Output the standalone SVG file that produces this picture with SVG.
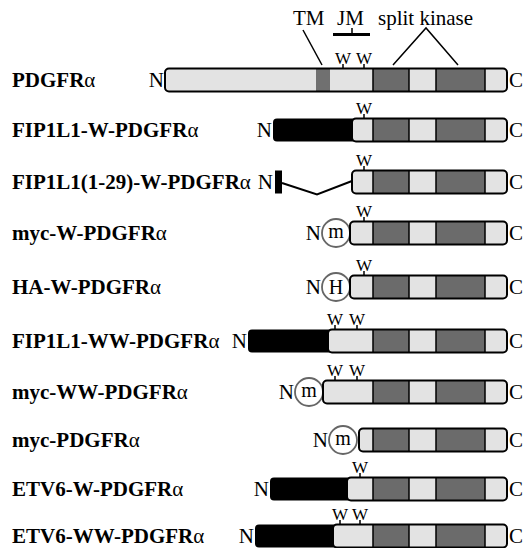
<svg xmlns="http://www.w3.org/2000/svg" xmlns:xlink="http://www.w3.org/1999/xlink" width="526" height="548" viewBox="0 0 526 548">
<style>
.lt{fill:#e3e3e3}
.dk{fill:#6b6b6b}
.bk{fill:#000}
.ol{fill:none;stroke:#000;stroke-width:2}
.dv{stroke:#000;stroke-width:1.5;fill:none}
.ln{stroke:#000;stroke-width:2;fill:none}
.tag{fill:#fff;stroke:#666;stroke-width:1.8}
text{font-family:"Liberation Serif","Times New Roman",serif;fill:#000}
.lbl{font-size:21px;font-weight:bold}
.a{font-weight:normal}
.t{font-size:21px}
.w{font-size:17px;text-anchor:middle}
.e{text-anchor:end}
.m{font-size:20px;text-anchor:middle}
</style>
<defs>
<g id="kin">
<rect x="373" y="-11.5" width="36" height="23" class="dk"/>
<rect x="436" y="-11.5" width="49" height="23" class="dk"/>
<path d="M373-11.5V11.5M409-11.5V11.5M436-11.5V11.5M485-11.5V11.5" class="dv"/>
</g>
</defs>

<g id="annotations">
<text x="293" y="25" class="t">TM</text>
<text x="337" y="25" class="t">JM</text>
<text x="378" y="25" class="t">split kinase</text>
</g>

<g id="connectors">
<path d="M303 30L322 65" class="dv"/>
<path d="M333 34.5H370" stroke="#000" stroke-width="3"/>
<path d="M352 28V34" class="dv"/>
<path d="M393 65L426 28L458 65" class="dv"/>
</g>

<g id="row-PDGFRa" transform="translate(0,80)">
<text x="12" y="7" class="lbl">PDGFR<tspan class="a">α</tspan></text>
<text x="164" y="7" class="t e">N</text>
<rect x="165" y="-11.5" width="342" height="23" rx="4" class="lt"/>
<rect x="316" y="-11" width="14" height="22" fill="#707070"/>
<use xlink:href="#kin"/>
<rect x="165" y="-11.5" width="342" height="23" rx="4" class="ol"/>
<path d="M343-16V-11.5M364-16V-11.5" class="dv"/>
<text x="343" y="-16" class="w">W</text>
<text x="364" y="-16" class="w">W</text>
<text x="509" y="7" class="t">C</text>
</g>

<g id="row-FIP1L1-W-PDGFRa" transform="translate(0,130)">
<text x="12" y="7" class="lbl">FIP1L1-W-PDGFR<tspan class="a">α</tspan></text>
<text x="272" y="7" class="t e">N</text>
<rect x="273" y="-11.5" width="84" height="23" rx="4" class="bk"/>
<rect x="352" y="-11.5" width="155" height="23" rx="4" class="lt"/>
<use xlink:href="#kin"/>
<rect x="352" y="-11.5" width="155" height="23" rx="4" class="ol"/>
<path d="M364-16V-11.5" class="dv"/>
<text x="364" y="-16" class="w">W</text>
<text x="509" y="7" class="t">C</text>
</g>

<g id="row-FIP1L1-1-29-W-PDGFRa" transform="translate(0,182)">
<text x="12" y="7" class="lbl">FIP1L1(1-29)-W-PDGFR<tspan class="a">α</tspan></text>
<text x="273" y="7" class="t e">N</text>
<rect x="275" y="-11.5" width="7" height="23" class="bk"/>
<path d="M282 1L317 12.5L352 -1" class="ln"/>
<rect x="352" y="-11.5" width="155" height="23" rx="4" class="lt"/>
<use xlink:href="#kin"/>
<rect x="352" y="-11.5" width="155" height="23" rx="4" class="ol"/>
<path d="M364-16V-11.5" class="dv"/>
<text x="364" y="-16" class="w">W</text>
<text x="509" y="7" class="t">C</text>
</g>

<g id="row-myc-W-PDGFRa" transform="translate(0,233)">
<text x="12" y="7" class="lbl">myc-W-PDGFR<tspan class="a">α</tspan></text>
<text x="321" y="7" class="t e">N</text>
<circle cx="336" cy="0" r="14" class="tag"/>
<text x="336" y="5" class="m">m</text>
<rect x="350" y="-11.5" width="157" height="23" rx="4" class="lt"/>
<use xlink:href="#kin"/>
<rect x="350" y="-11.5" width="157" height="23" rx="4" class="ol"/>
<path d="M364-16V-11.5" class="dv"/>
<text x="364" y="-16" class="w">W</text>
<text x="509" y="7" class="t">C</text>
</g>

<g id="row-HA-W-PDGFRa" transform="translate(0,287)">
<text x="12" y="7" class="lbl">HA-W-PDGFR<tspan class="a">α</tspan></text>
<text x="321" y="7" class="t e">N</text>
<circle cx="336" cy="0" r="14" class="tag"/>
<text x="336" y="6.5" class="m">H</text>
<rect x="350" y="-11.5" width="157" height="23" rx="4" class="lt"/>
<use xlink:href="#kin"/>
<rect x="350" y="-11.5" width="157" height="23" rx="4" class="ol"/>
<path d="M364-16V-11.5" class="dv"/>
<text x="364" y="-16" class="w">W</text>
<text x="509" y="7" class="t">C</text>
</g>

<g id="row-FIP1L1-WW-PDGFRa" transform="translate(0,341)">
<text x="12" y="7" class="lbl">FIP1L1-WW-PDGFR<tspan class="a">α</tspan></text>
<text x="247" y="7" class="t e">N</text>
<rect x="248" y="-11.5" width="85" height="23" rx="4" class="bk"/>
<rect x="328" y="-11.5" width="179" height="23" rx="4" class="lt"/>
<use xlink:href="#kin"/>
<rect x="328" y="-11.5" width="179" height="23" rx="4" class="ol"/>
<path d="M335-16V-11.5M357-16V-11.5" class="dv"/>
<text x="335" y="-16" class="w">W</text>
<text x="357" y="-16" class="w">W</text>
<text x="509" y="7" class="t">C</text>
</g>

<g id="row-myc-WW-PDGFRa" transform="translate(0,392)">
<text x="12" y="7" class="lbl">myc-WW-PDGFR<tspan class="a">α</tspan></text>
<text x="294" y="7" class="t e">N</text>
<circle cx="309" cy="0" r="14" class="tag"/>
<text x="309" y="5" class="m">m</text>
<rect x="323" y="-11.5" width="184" height="23" rx="4" class="lt"/>
<use xlink:href="#kin"/>
<rect x="323" y="-11.5" width="184" height="23" rx="4" class="ol"/>
<path d="M335-16V-11.5M357-16V-11.5" class="dv"/>
<text x="335" y="-16" class="w">W</text>
<text x="357" y="-16" class="w">W</text>
<text x="509" y="7" class="t">C</text>
</g>

<g id="row-myc-PDGFRa" transform="translate(0,440)">
<text x="12" y="7" class="lbl">myc-PDGFR<tspan class="a">α</tspan></text>
<text x="328" y="7" class="t e">N</text>
<circle cx="343" cy="0" r="14" class="tag"/>
<text x="343" y="5" class="m">m</text>
<rect x="359" y="-11.5" width="148" height="23" rx="4" class="lt"/>
<use xlink:href="#kin"/>
<rect x="359" y="-11.5" width="148" height="23" rx="4" class="ol"/>
<text x="509" y="7" class="t">C</text>
</g>

<g id="row-ETV6-W-PDGFRa" transform="translate(0,489)">
<text x="12" y="7" class="lbl">ETV6-W-PDGFR<tspan class="a">α</tspan></text>
<text x="269" y="7" class="t e">N</text>
<rect x="270" y="-11.5" width="82" height="23" rx="4" class="bk"/>
<rect x="347" y="-11.5" width="160" height="23" rx="4" class="lt"/>
<use xlink:href="#kin"/>
<rect x="347" y="-11.5" width="160" height="23" rx="4" class="ol"/>
<path d="M360-16V-11.5" class="dv"/>
<text x="360" y="-16" class="w">W</text>
<text x="509" y="7" class="t">C</text>
</g>

<g id="row-ETV6-WW-PDGFRa" transform="translate(0,536)">
<text x="12" y="7" class="lbl">ETV6-WW-PDGFR<tspan class="a">α</tspan></text>
<text x="254" y="7" class="t e">N</text>
<rect x="255" y="-11.5" width="83" height="23" rx="4" class="bk"/>
<rect x="333" y="-11.5" width="174" height="23" rx="4" class="lt"/>
<use xlink:href="#kin"/>
<rect x="333" y="-11.5" width="174" height="23" rx="4" class="ol"/>
<path d="M340-16V-11.5M360-16V-11.5" class="dv"/>
<text x="340" y="-16" class="w">W</text>
<text x="360" y="-16" class="w">W</text>
<text x="509" y="7" class="t">C</text>
</g>
</svg>
